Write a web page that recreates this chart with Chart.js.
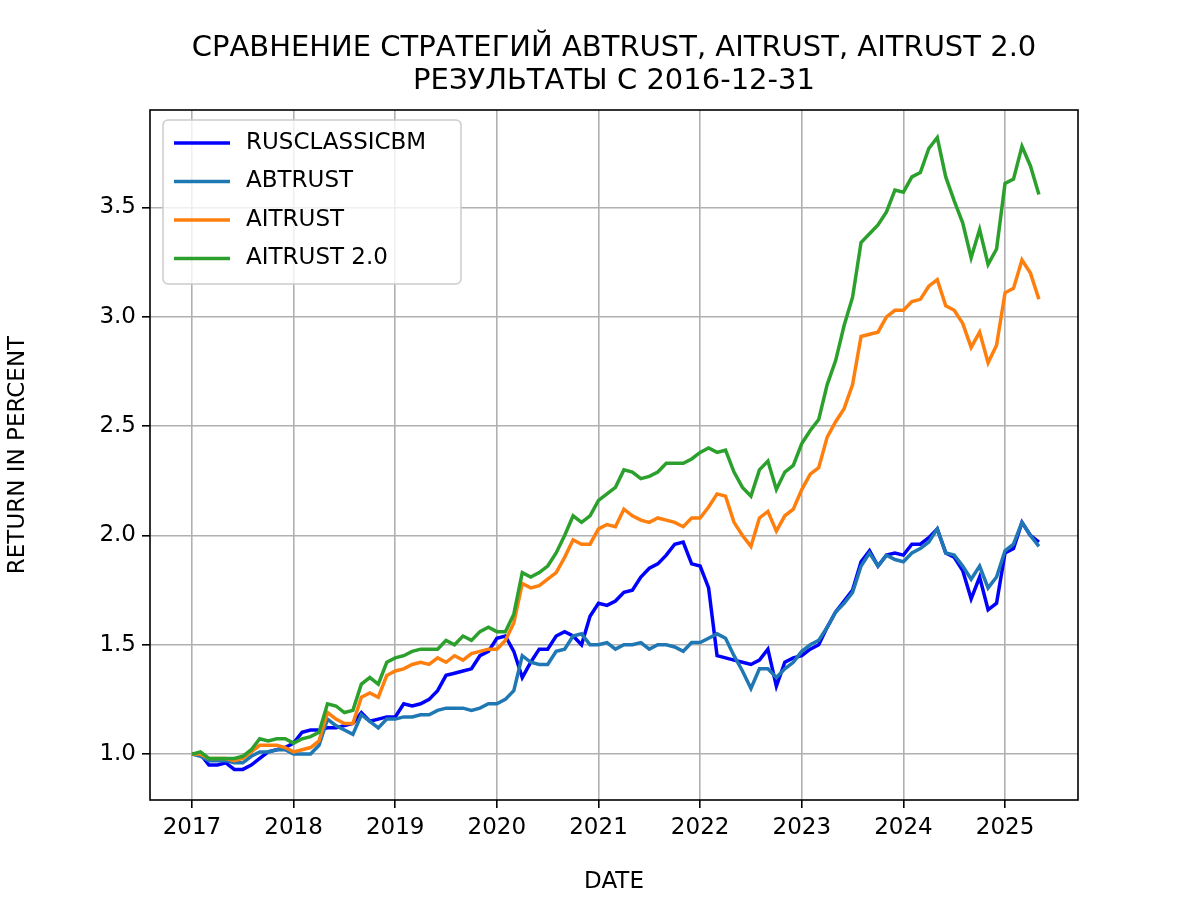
<!DOCTYPE html>
<html>
<head>
<meta charset="utf-8">
<script src="https://cdn.jsdelivr.net/npm/chart.js@4"></script>
<style>
  html, body { margin: 0; padding: 0; background: #fff; }
  #wrap { width: 1200px; height: 900px; }
</style>
</head>
<body>
<div id="wrap"><canvas id="chart" width="1200" height="900"></canvas></div>
<script>
// monthly values, first point = 2016-12-31
const startYear = 2017;
const yearTicks = [2017, 2018, 2019, 2020, 2021, 2022, 2023, 2024, 2025];
const valueTicks = [1.0, 1.5, 2.0, 2.5, 3.0, 3.5];

const rusclassic = [
  1.00,1.00,0.95,0.95,0.96,0.93,0.93,0.95,0.98,1.01,1.02,1.03,1.05,
  1.10,1.11,1.11,1.12,1.12,1.13,1.14,1.19,1.15,1.16,1.17,1.17,
  1.23,1.22,1.23,1.25,1.29,1.36,1.37,1.38,1.39,1.45,1.47,1.53,
  1.54,1.47,1.35,1.42,1.48,1.48,1.54,1.56,1.54,1.50,1.63,1.69,
  1.68,1.70,1.74,1.75,1.81,1.85,1.87,1.91,1.96,1.97,1.87,1.86,
  1.76,1.45,1.44,1.43,1.42,1.41,1.43,1.48,1.31,1.42,1.44,1.45,
  1.48,1.50,1.58,1.65,1.70,1.75,1.88,1.93,1.86,1.91,1.92,1.91,
  1.96,1.96,1.99,2.03,1.92,1.90,1.84,1.71,1.81,1.66,1.69,1.92,
  1.94,2.06,2.00,1.97
];
const abtrust = [
  1.00,0.99,0.97,0.97,0.97,0.96,0.96,0.99,1.01,1.01,1.02,1.02,1.00,
  1.00,1.00,1.04,1.16,1.13,1.11,1.09,1.18,1.15,1.12,1.16,1.16,
  1.17,1.17,1.18,1.18,1.20,1.21,1.21,1.21,1.20,1.21,1.23,1.23,
  1.25,1.29,1.45,1.42,1.41,1.41,1.47,1.48,1.54,1.55,1.50,1.50,
  1.51,1.48,1.50,1.50,1.51,1.48,1.50,1.50,1.49,1.47,1.51,1.51,
  1.53,1.55,1.53,1.45,1.38,1.30,1.39,1.39,1.35,1.39,1.42,1.47,
  1.50,1.52,1.58,1.65,1.69,1.74,1.86,1.92,1.86,1.91,1.89,1.88,
  1.92,1.94,1.97,2.03,1.92,1.91,1.86,1.80,1.86,1.76,1.81,1.93,
  1.96,2.06,2.00,1.95
];
const aitrust = [
  1.00,1.00,0.98,0.98,0.98,0.97,0.98,1.01,1.04,1.04,1.04,1.03,1.01,
  1.02,1.03,1.06,1.19,1.16,1.14,1.14,1.26,1.28,1.26,1.36,1.38,
  1.39,1.41,1.42,1.41,1.44,1.42,1.45,1.43,1.46,1.47,1.48,1.48,
  1.52,1.60,1.78,1.76,1.77,1.80,1.83,1.90,1.98,1.96,1.96,2.03,
  2.05,2.04,2.12,2.09,2.07,2.06,2.08,2.07,2.06,2.04,2.08,2.08,
  2.13,2.19,2.18,2.06,2.00,1.95,2.08,2.11,2.02,2.09,2.12,2.21,
  2.28,2.31,2.45,2.52,2.58,2.69,2.91,2.92,2.93,3.00,3.03,3.03,
  3.07,3.08,3.14,3.17,3.05,3.03,2.97,2.86,2.93,2.79,2.87,3.11,
  3.13,3.26,3.20,3.08
];
const aitrust2 = [
  1.00,1.01,0.98,0.98,0.98,0.98,0.99,1.02,1.07,1.06,1.07,1.07,1.05,
  1.07,1.08,1.10,1.23,1.22,1.19,1.20,1.32,1.35,1.32,1.42,1.44,
  1.45,1.47,1.48,1.48,1.48,1.52,1.50,1.54,1.52,1.56,1.58,1.56,
  1.56,1.64,1.83,1.81,1.83,1.86,1.92,2.00,2.09,2.06,2.09,2.16,
  2.19,2.22,2.30,2.29,2.26,2.27,2.29,2.33,2.33,2.33,2.35,2.38,
  2.40,2.38,2.39,2.29,2.22,2.18,2.30,2.34,2.21,2.29,2.32,2.42,
  2.48,2.53,2.69,2.80,2.96,3.09,3.34,3.38,3.42,3.48,3.58,3.57,
  3.64,3.66,3.77,3.82,3.64,3.53,3.43,3.27,3.40,3.24,3.31,3.61,
  3.63,3.78,3.69,3.56
];

const series = [
  { label: 'RUSCLASSICBM', data: rusclassic, color: '#0000ff' },
  { label: 'ABTRUST', data: abtrust, color: '#1f77b4' },
  { label: 'AITRUST', data: aitrust, color: '#ff7f0e' },
  { label: 'AITRUST 2.0', data: aitrust2, color: '#2ca02c' }
];

const FONT = 'DejaVu Sans';
const toPoints = arr => arr.map((v, i) => ({ x: startYear + i / 12, y: v }));

const decor = {
  id: 'decor',
  afterDraw(chart) {
    const { ctx, chartArea: a } = chart;
    ctx.save();
    // frame
    ctx.strokeStyle = '#000';
    ctx.lineWidth = 1.6;
    ctx.strokeRect(a.left, a.top, a.right - a.left, a.bottom - a.top);
    // title
    ctx.fillStyle = '#000';
    ctx.textAlign = 'center';
    ctx.textBaseline = 'middle';
    ctx.font = '29px "' + FONT + '"';
    const cx = (a.left + a.right) / 2;
    ctx.fillText('СРАВНЕНИЕ СТРАТЕГИЙ ABTRUST, AITRUST, AITRUST 2.0', cx, 48);
    ctx.fillText('РЕЗУЛЬТАТЫ С 2016-12-31', cx, 81);
    // legend
    const lx = 163, ly = 120, lw = 298, lh = 164;
    ctx.fillStyle = 'rgba(255,255,255,0.8)';
    ctx.strokeStyle = '#cccccc';
    ctx.lineWidth = 1.5;
    ctx.beginPath();
    ctx.roundRect(lx, ly, lw, lh, 5);
    ctx.fill();
    ctx.stroke();
    ctx.font = '23px "' + FONT + '"';
    ctx.textAlign = 'left';
    series.forEach((s, i) => {
      const y = 143 + i * 38.5;
      ctx.strokeStyle = s.color;
      ctx.lineWidth = 3.5;
      ctx.beginPath();
      ctx.moveTo(174, y);
      ctx.lineTo(230, y);
      ctx.stroke();
      ctx.fillStyle = '#000';
      ctx.fillText(s.label, 246, y);
    });
    ctx.restore();
  }
};

new Chart(document.getElementById('chart'), {
  type: 'line',
  data: {
    datasets: series.map((s, i) => ({
      label: s.label,
      data: toPoints(s.data),
      borderColor: s.color,
      backgroundColor: s.color,
      borderWidth: 3.5,
      pointRadius: 0,
      tension: 0,
      order: series.length - i
    }))
  },
  options: {
    responsive: false,
    animation: false,
    layout: { padding: { top: 110, right: 122, left: 0, bottom: 0 } },
    plugins: { legend: { display: false }, tooltip: { enabled: false } },
    scales: {
      x: {
        type: 'linear',
        min: 2016.587,
        max: 2025.718,
        afterBuildTicks: s => { s.ticks = yearTicks.map(v => ({ value: v })); },
        afterFit: s => { s.height = 100; },
        ticks: { color: '#000', font: { family: FONT, size: 23 }, padding: 6, maxRotation: 0, callback: v => String(v) },
        grid: { color: '#b0b0b0', lineWidth: 1.6, tickColor: '#000', tickLength: 8, drawTicks: true },
        border: { display: false },
        title: { display: true, text: 'DATE', color: '#000', font: { family: FONT, size: 23 }, padding: { top: 2 } }
      },
      y: {
        type: 'linear',
        min: 0.79,
        max: 3.946,
        afterBuildTicks: s => { s.ticks = valueTicks.map(v => ({ value: v })); },
        afterFit: s => { s.width = 150; },
        ticks: { color: '#000', font: { family: FONT, size: 23 }, padding: 6, callback: v => Number(v).toFixed(1) },
        grid: { color: '#b0b0b0', lineWidth: 1.6, tickColor: '#000', tickLength: 8, drawTicks: true },
        border: { display: false },
        title: { display: true, text: 'RETURN IN PERCENT', color: '#000', font: { family: FONT, size: 23 }, padding: { bottom: 8 } }
      }
    }
  },
  plugins: [decor]
});
</script>
</body>
</html>
